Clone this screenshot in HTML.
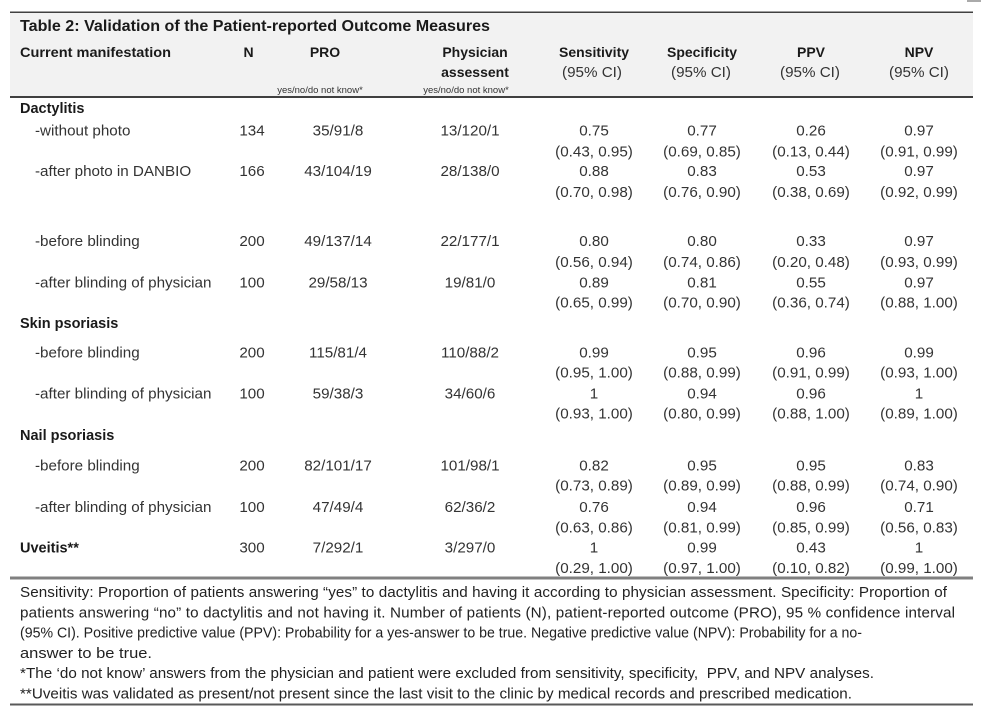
<!DOCTYPE html>
<html><head><meta charset="utf-8"><style>
html,body{margin:0;padding:0;background:#fff;width:985px;height:712px;overflow:hidden}
svg{display:block}
text{font-family:"Liberation Sans",Arial,sans-serif}
.h{font-weight:bold;font-size:14px;fill:#1a1a1a}
.d{font-size:15.2px;fill:#333}
.s{font-size:9.5px;fill:#333}
.f{font-size:15.2px;fill:#222}
</style></head><body>
<svg width="985" height="712" viewBox="0 0 985 712" xmlns="http://www.w3.org/2000/svg">
<rect x="967" y="0" width="14" height="2" fill="#aaa"/>
<rect x="10" y="12" width="963" height="85" fill="#f2f2f2"/>
<rect x="10" y="11.5" width="963" height="1.5" fill="#404040"/>
<rect x="10" y="96" width="963" height="2" fill="#404040"/>
<rect x="10" y="576.5" width="963" height="3" fill="#808080"/>
<rect x="10" y="703.5" width="963" height="2" fill="#595959"/>

<text x="20" y="31" style="font-weight:bold;font-size:16px;fill:#1a1a1a" textLength="470" lengthAdjust="spacingAndGlyphs">Table 2: Validation of the Patient-reported Outcome Measures</text>
<text class="h" x="20" y="57" textLength="151" lengthAdjust="spacingAndGlyphs">Current manifestation</text>
<text class="h" x="248.5" y="57" text-anchor="middle">N</text>
<text class="h" x="325" y="57" text-anchor="middle">PRO</text>
<text class="h" x="475" y="57" text-anchor="middle">Physician</text>
<text class="h" x="475" y="77" text-anchor="middle">assessent</text>
<text class="s" x="320" y="93" text-anchor="middle">yes/no/do not know*</text>
<text class="s" x="466" y="93" text-anchor="middle">yes/no/do not know*</text>
<text class="h" x="594" y="57" text-anchor="middle">Sensitivity</text>
<text class="h" x="702" y="57" text-anchor="middle">Specificity</text>
<text class="h" x="811" y="57" text-anchor="middle">PPV</text>
<text class="h" x="919" y="57" text-anchor="middle">NPV</text>
<text class="d" x="592" y="77" text-anchor="middle">(95% CI)</text>
<text class="d" x="701" y="77" text-anchor="middle">(95% CI)</text>
<text class="d" x="810" y="77" text-anchor="middle">(95% CI)</text>
<text class="d" x="919" y="77" text-anchor="middle">(95% CI)</text>

<text class="h" x="20" y="113" style="font-size:14.5px">Dactylitis</text>
<text class="h" x="20" y="328" style="font-size:14.5px">Skin psoriasis</text>
<text class="h" x="20" y="440" style="font-size:14.5px">Nail psoriasis</text>
<text class="h" x="20" y="552.5" style="font-size:14.5px">Uveitis**</text>

<g class="d">
<text x="35" y="135.5">-without photo</text>
<text x="35" y="176">-after photo in DANBIO</text>
<text x="35" y="246">-before blinding</text>
<text x="35" y="287.5">-after blinding of physician</text>
<text x="35" y="357.5">-before blinding</text>
<text x="35" y="398.5">-after blinding of physician</text>
<text x="35" y="470.5">-before blinding</text>
<text x="35" y="512">-after blinding of physician</text>
</g>

<g class="d" text-anchor="middle">
<text x="252" y="135.5">134</text><text x="338" y="135.5">35/91/8</text><text x="470" y="135.5">13/120/1</text>
<text x="594" y="135.5">0.75</text><text x="702" y="135.5">0.77</text><text x="811" y="135.5">0.26</text><text x="919" y="135.5">0.97</text>
<text x="594" y="156.5">(0.43, 0.95)</text><text x="702" y="156.5">(0.69, 0.85)</text><text x="811" y="156.5">(0.13, 0.44)</text><text x="919" y="156.5">(0.91, 0.99)</text>
<text x="252" y="176">166</text><text x="338" y="176">43/104/19</text><text x="470" y="176">28/138/0</text>
<text x="594" y="176">0.88</text><text x="702" y="176">0.83</text><text x="811" y="176">0.53</text><text x="919" y="176">0.97</text>
<text x="594" y="197">(0.70, 0.98)</text><text x="702" y="197">(0.76, 0.90)</text><text x="811" y="197">(0.38, 0.69)</text><text x="919" y="197">(0.92, 0.99)</text>
<text x="252" y="246">200</text><text x="338" y="246">49/137/14</text><text x="470" y="246">22/177/1</text>
<text x="594" y="246">0.80</text><text x="702" y="246">0.80</text><text x="811" y="246">0.33</text><text x="919" y="246">0.97</text>
<text x="594" y="267">(0.56, 0.94)</text><text x="702" y="267">(0.74, 0.86)</text><text x="811" y="267">(0.20, 0.48)</text><text x="919" y="267">(0.93, 0.99)</text>
<text x="252" y="287.5">100</text><text x="338" y="287.5">29/58/13</text><text x="470" y="287.5">19/81/0</text>
<text x="594" y="287.5">0.89</text><text x="702" y="287.5">0.81</text><text x="811" y="287.5">0.55</text><text x="919" y="287.5">0.97</text>
<text x="594" y="307.5">(0.65, 0.99)</text><text x="702" y="307.5">(0.70, 0.90)</text><text x="811" y="307.5">(0.36, 0.74)</text><text x="919" y="307.5">(0.88, 1.00)</text>
<text x="252" y="357.5">200</text><text x="338" y="357.5">115/81/4</text><text x="470" y="357.5">110/88/2</text>
<text x="594" y="357.5">0.99</text><text x="702" y="357.5">0.95</text><text x="811" y="357.5">0.96</text><text x="919" y="357.5">0.99</text>
<text x="594" y="377.5">(0.95, 1.00)</text><text x="702" y="377.5">(0.88, 0.99)</text><text x="811" y="377.5">(0.91, 0.99)</text><text x="919" y="377.5">(0.93, 1.00)</text>
<text x="252" y="398.5">100</text><text x="338" y="398.5">59/38/3</text><text x="470" y="398.5">34/60/6</text>
<text x="594" y="398.5">1</text><text x="702" y="398.5">0.94</text><text x="811" y="398.5">0.96</text><text x="919" y="398.5">1</text>
<text x="594" y="418.5">(0.93, 1.00)</text><text x="702" y="418.5">(0.80, 0.99)</text><text x="811" y="418.5">(0.88, 1.00)</text><text x="919" y="418.5">(0.89, 1.00)</text>
<text x="252" y="470.5">200</text><text x="338" y="470.5">82/101/17</text><text x="470" y="470.5">101/98/1</text>
<text x="594" y="470.5">0.82</text><text x="702" y="470.5">0.95</text><text x="811" y="470.5">0.95</text><text x="919" y="470.5">0.83</text>
<text x="594" y="490.5">(0.73, 0.89)</text><text x="702" y="490.5">(0.89, 0.99)</text><text x="811" y="490.5">(0.88, 0.99)</text><text x="919" y="490.5">(0.74, 0.90)</text>
<text x="252" y="512">100</text><text x="338" y="512">47/49/4</text><text x="470" y="512">62/36/2</text>
<text x="594" y="512">0.76</text><text x="702" y="512">0.94</text><text x="811" y="512">0.96</text><text x="919" y="512">0.71</text>
<text x="594" y="532.5">(0.63, 0.86)</text><text x="702" y="532.5">(0.81, 0.99)</text><text x="811" y="532.5">(0.85, 0.99)</text><text x="919" y="532.5">(0.56, 0.83)</text>
<text x="252" y="552.5">300</text><text x="338" y="552.5">7/292/1</text><text x="470" y="552.5">3/297/0</text>
<text x="594" y="552.5">1</text><text x="702" y="552.5">0.99</text><text x="811" y="552.5">0.43</text><text x="919" y="552.5">1</text>
<text x="594" y="573">(0.29, 1.00)</text><text x="702" y="573">(0.97, 1.00)</text><text x="811" y="573">(0.10, 0.82)</text><text x="919" y="573">(0.99, 1.00)</text>
</g>

<g class="f">
<text x="20" y="597" textLength="927" lengthAdjust="spacing">Sensitivity: Proportion of patients answering “yes” to dactylitis and having it according to physician assessment. Specificity: Proportion of</text>
<text x="20" y="617.3" textLength="935" lengthAdjust="spacing">patients answering “no” to dactylitis and not having it. Number of patients (N), patient-reported outcome (PRO), 95 % confidence interval</text>
<text x="20" y="637.6" textLength="842" lengthAdjust="spacingAndGlyphs">(95% CI). Positive predictive value (PPV): Probability for a yes-answer to be true. Negative predictive value (NPV): Probability for a no-</text>
<text x="20" y="657.9" textLength="132" lengthAdjust="spacingAndGlyphs">answer to be true.</text>
<text x="20" y="678.2" textLength="854" lengthAdjust="spacing">*The ‘do not know’ answers from the physician and patient were excluded from sensitivity, specificity,&#160; PPV, and NPV analyses.</text>
<text x="20" y="698.5" textLength="832" lengthAdjust="spacing">**Uveitis was validated as present/not present since the last visit to the clinic by medical records and prescribed medication.</text>
</g>
</svg>
</body></html>
